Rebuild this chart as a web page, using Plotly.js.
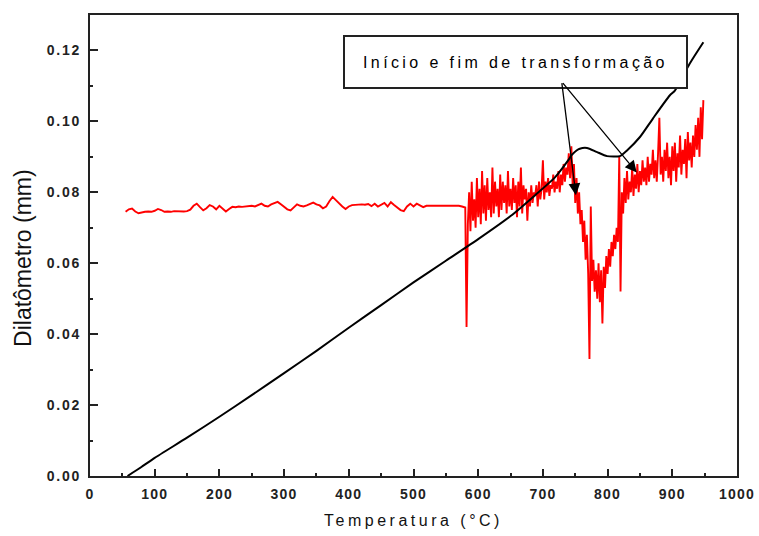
<!DOCTYPE html>
<html>
<head>
<meta charset="utf-8">
<script src="https://cdn.plot.ly/plotly-3.0.1.min.js"></script>
<style>
  html, body { margin: 0; padding: 0; background: #fff; }
  #chart { width: 759px; height: 536px; }
  .xtick text { letter-spacing: 1.2px; }
  .ytick text { letter-spacing: 1.8px; }
  .g-xtitle text { letter-spacing: 3.5px; }
  .note-box .annotation-text { letter-spacing: 3.4px; }
</style>
</head>
<body>
<div id="chart"></div>
<script>
// Black curve (smoothed dilatometer trace)
const blackT = [58, 80, 100, 150, 200, 250, 300, 350, 400, 450, 500, 550, 600, 650, 688, 719, 739, 744, 752, 757, 768, 783, 799, 819, 830, 850, 870, 896, 904, 927, 948];
const blackY = [0.0000, 0.0026, 0.0051, 0.0108, 0.0167, 0.0228, 0.0290, 0.0353, 0.0418, 0.0482, 0.0546, 0.0607, 0.0668, 0.0733, 0.0792, 0.0843, 0.0890, 0.0904, 0.0918, 0.0923, 0.0925, 0.0914, 0.0902, 0.0902, 0.0918, 0.0956, 0.1008, 0.1073, 0.1087, 0.1163, 0.1223];

// Red curve, quiet part (55..580 step 5)
const redFlatT0 = 55, redFlatStep = 5;
const redFlatY = [
  0.0745, 0.0752, 0.0754, 0.0746, 0.0741, 0.0744, 0.0745, 0.0746, 0.0745, 0.0748,
  0.0753, 0.0750, 0.0745, 0.0746, 0.0745, 0.0747, 0.0746, 0.0745, 0.0746, 0.0747,
  0.0751, 0.0762, 0.0768, 0.0758, 0.0749, 0.0755, 0.0764, 0.0760, 0.0752, 0.0762,
  0.0755, 0.0746, 0.0753, 0.0759, 0.0758, 0.0760, 0.0759, 0.0760, 0.0759, 0.0762,
  0.0760, 0.0764, 0.0768, 0.0762, 0.0760, 0.0766, 0.0770, 0.0773, 0.0766, 0.0760,
  0.0752, 0.0749, 0.0758, 0.0766, 0.0762, 0.0760, 0.0763, 0.0768, 0.0771, 0.0766,
  0.0763, 0.0755, 0.0760, 0.0775, 0.0787, 0.0778, 0.0768, 0.0760, 0.0753, 0.0760,
  0.0764, 0.0765, 0.0766, 0.0766, 0.0765, 0.0767, 0.0761, 0.0768, 0.0760, 0.0764,
  0.0770, 0.0760, 0.0772, 0.0764, 0.0756, 0.0750, 0.0747, 0.0760, 0.0768, 0.0760,
  0.0768, 0.0762, 0.0758, 0.0762, 0.0762, 0.0764, 0.0763, 0.0763, 0.0763, 0.0763,
  0.0762, 0.0762, 0.0762, 0.0762, 0.0760, 0.0757
];

// Red curve, noisy part (582..948 step 2)
const redNoisyT0 = 582, redNoisyStep = 2;
const redNoisyY = [
  0.042, 0.071, 0.080, 0.069, 0.083, 0.072, 0.078, 0.070, 0.084, 0.073,
  0.081, 0.071, 0.086, 0.074, 0.082, 0.072, 0.084, 0.075, 0.080, 0.073,
  0.087, 0.074, 0.083, 0.076, 0.081, 0.073, 0.085, 0.075, 0.083, 0.077,
  0.082, 0.074, 0.086, 0.076, 0.081, 0.075, 0.084, 0.077, 0.082, 0.073,
  0.083, 0.076, 0.087, 0.074, 0.082, 0.078, 0.081, 0.072, 0.080, 0.076,
  0.082, 0.077, 0.080, 0.079, 0.082, 0.076, 0.083, 0.078, 0.081, 0.089,
  0.078, 0.083, 0.080, 0.084, 0.079, 0.082, 0.081, 0.085, 0.080, 0.083,
  0.081, 0.086, 0.080, 0.085, 0.082, 0.088, 0.083, 0.087, 0.085, 0.091,
  0.084, 0.093, 0.082, 0.088, 0.077, 0.084, 0.074, 0.080, 0.071, 0.075,
  0.066, 0.072, 0.061, 0.068, 0.057, 0.033, 0.076, 0.055, 0.061, 0.052,
  0.058, 0.050, 0.060, 0.049, 0.058, 0.043, 0.059, 0.053, 0.062, 0.057,
  0.064, 0.059, 0.066, 0.062, 0.068, 0.064, 0.070, 0.066, 0.090, 0.052,
  0.080, 0.074, 0.084, 0.077, 0.086, 0.078, 0.083, 0.080, 0.087, 0.079,
  0.085, 0.081, 0.088, 0.080, 0.086, 0.082, 0.089, 0.083, 0.087, 0.082,
  0.090, 0.083, 0.088, 0.085, 0.092, 0.084, 0.089, 0.083, 0.091, 0.101,
  0.085, 0.090, 0.083, 0.092, 0.086, 0.094, 0.084, 0.090, 0.082, 0.093,
  0.086, 0.094, 0.083, 0.091, 0.087, 0.096, 0.085, 0.092, 0.088, 0.095,
  0.084, 0.097, 0.089, 0.094, 0.087, 0.096, 0.090, 0.099, 0.092, 0.101,
  0.090, 0.104, 0.095, 0.106
];

const xTitle = "Temperatura (°C)";
const yTitle = "Dilatômetro (mm)";
const noteText = "Início e fim de transformação";
const notePos = {x: 658, y: 0.1168};
const arrowTail = {x: 729, y: 0.1112};
const arrowHeads = [{x: 751, y: 0.0792}, {x: 845, y: 0.0856}];

const redX = [], redY = [];
redFlatY.forEach((v, i) => { redX.push(redFlatT0 + i * redFlatStep); redY.push(v); });
redNoisyY.forEach((v, i) => { redX.push(redNoisyT0 + i * redNoisyStep); redY.push(v); });

const traces = [
  {x: redX, y: redY, type: 'scatter', mode: 'lines', line: {color: '#ff0000', width: 1.9}, hoverinfo: 'skip'},
  {x: blackT, y: blackY, type: 'scatter', mode: 'lines', line: {color: '#000000', width: 2, shape: 'spline', smoothing: 0.6}, hoverinfo: 'skip'}
];

const tickFont = {family: 'Liberation Sans, Arial, sans-serif', size: 14, color: '#222', weight: 'bold'};

const annotations = [
  {x: notePos.x, y: notePos.y, xref: 'x', yref: 'y', text: noteText, showarrow: false,
   font: {family: 'Liberation Sans, Arial, sans-serif', size: 16, color: '#000'},
   bgcolor: '#ffffff', bordercolor: '#222', borderwidth: 2, borderpad: 0, width: 341, height: 50,
   name: 'note'},
  {x: 0, y: 0.473, xref: 'paper', yref: 'paper', xshift: -67, xanchor: 'center', yanchor: 'middle',
   text: yTitle, textangle: -90, showarrow: false,
   font: {family: 'Liberation Sans, Arial, sans-serif', size: 23, color: '#111'}}
];
arrowHeads.forEach(h => annotations.push({
  x: h.x, y: h.y, xref: 'x', yref: 'y', ax: arrowTail.x, ay: arrowTail.y, axref: 'x', ayref: 'y',
  text: '', showarrow: true, arrowhead: 2, arrowsize: 1.8, arrowwidth: 1.3, arrowcolor: '#000', standoff: 0, startstandoff: 0
}));

const layout = {
  width: 759, height: 536,
  margin: {l: 90, r: 22, t: 15, b: 60},
  paper_bgcolor: '#fff', plot_bgcolor: '#fff',
  showlegend: false,
  xaxis: {
    range: [0, 1000], tickvals: [0,100,200,300,400,500,600,700,800,900,1000],
    ticks: 'inside', ticklen: 7, tickwidth: 2, tickcolor: '#222',
    minor: {dtick: 50, ticks: 'inside', ticklen: 3, tickwidth: 2, tickcolor: '#222'},
    showline: true, linecolor: '#222', linewidth: 2, mirror: true,
    showgrid: false, zeroline: false, tickfont: tickFont, ticklabelstandoff: 4,
    title: {text: xTitle, font: {family: 'Liberation Sans, Arial, sans-serif', size: 16, color: '#111'}, standoff: 14}
  },
  yaxis: {
    range: [0, 0.13], tickvals: [0, 0.02, 0.04, 0.06, 0.08, 0.10, 0.12], tickformat: '.2f',
    ticks: 'inside', ticklen: 8, tickwidth: 2, tickcolor: '#222',
    minor: {dtick: 0.01, ticks: 'inside', ticklen: 3, tickwidth: 2, tickcolor: '#222'},
    showline: true, linecolor: '#222', linewidth: 2, mirror: true,
    showgrid: false, zeroline: false, tickfont: tickFont, ticklabelstandoff: 4
  },
  annotations: annotations
};

Plotly.newPlot('chart', traces, layout, {staticPlot: true, displayModeBar: false}).then(() => {
  // widen letter spacing of the boxed note only (first annotation)
  const first = document.querySelector('.annotation[data-index="0"] .annotation-text');
  if (first) first.style.letterSpacing = '3.4px';
});
</script>
</body>
</html>
